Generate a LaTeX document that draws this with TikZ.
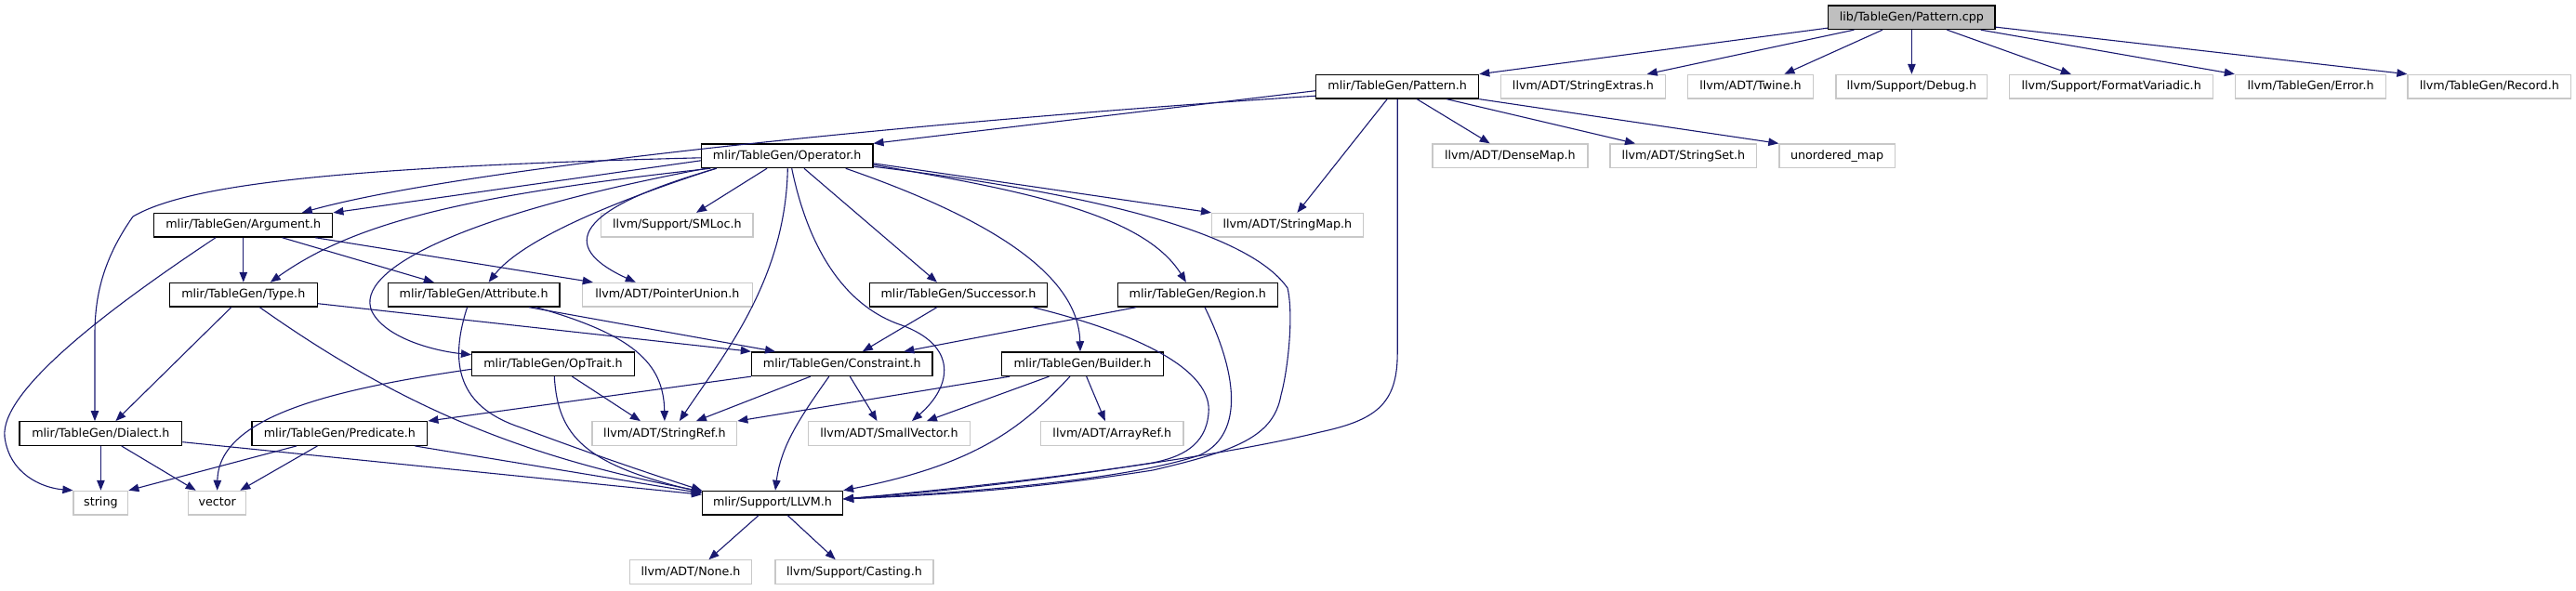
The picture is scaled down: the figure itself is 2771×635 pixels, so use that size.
\documentclass[tikz,border=0pt]{standalone}
\usepackage{fontspec}
\setmainfont{DejaVu Sans}
\usetikzlibrary{arrows.meta}
\definecolor{edgec}{HTML}{191970}
\definecolor{greyb}{HTML}{C8C8C8}
\definecolor{rootf}{HTML}{BFBFBF}
\tikzset{
  base/.style={rectangle, inner sep=0pt, minimum height=25.6pt, text height=9.6pt, text depth=2.6pt,
    font=\fontsize{12.7}{15}\selectfont, line width=1.3pt},
  hdr/.style={base, draw=black},
  ext/.style={base, draw=greyb},
  root/.style={base, draw=black, fill=rootf},
  edge/.style={draw=edgec, line width=1.1pt, -{Triangle[length=11pt,width=8.5pt]}}
}
\begin{document}
\begin{tikzpicture}[x=1pt,y=-1pt]
\useasboundingbox (0,0) rectangle (2771,635);
% row 0
\node[root, minimum width=179.4pt] (cpp) at (2056.4,18.7) {lib/TableGen/Pattern.cpp};
% row 1
\node[hdr, minimum width=174.8pt] (pattern) at (1503.2,93.2) {mlir/TableGen/Pattern.h};
\node[ext, minimum width=177.3pt] (strext) at (1702.9,93.2) {llvm/ADT/StringExtras.h};
\node[ext, minimum width=134.6pt] (twine) at (1883,93.2) {llvm/ADT/Twine.h};
\node[ext, minimum width=162.8pt] (debug) at (2056.4,93.2) {llvm/Support/Debug.h};
\node[ext, minimum width=218.9pt] (fmtvar) at (2271.2,93.2) {llvm/Support/FormatVariadic.h};
\node[ext, minimum width=162.3pt] (error) at (2485.6,93.2) {llvm/TableGen/Error.h};
\node[ext, minimum width=175.6pt] (record) at (2677.8,93.2) {llvm/TableGen/Record.h};
% row 2
\node[hdr, minimum width=184.3pt] (operator) at (846.7,167.8) {mlir/TableGen/Operator.h};
\node[ext, minimum width=167.1pt] (densemap) at (1624.4,167.8) {llvm/ADT/DenseMap.h};
\node[ext, minimum width=157.6pt] (stringset) at (1810.9,167.8) {llvm/ADT/StringSet.h};
\node[ext, minimum width=124.4pt] (umap) at (1976.1,167.8) {unordered\_map};
% row 3
\node[hdr, minimum width=192pt] (argument) at (261.8,242.3) {mlir/TableGen/Argument.h};
\node[ext, minimum width=163.3pt] (smloc) at (728.4,242.3) {llvm/Support/SMLoc.h};
\node[ext, minimum width=162.6pt] (stringmap) at (1384.9,242.3) {llvm/ADT/StringMap.h};
% row 4
\node[hdr, minimum width=158.8pt] (type) at (261.8,317.2) {mlir/TableGen/Type.h};
\node[hdr, minimum width=184.9pt] (attribute) at (509.6,317.2) {mlir/TableGen/Attribute.h};
\node[ext, minimum width=183pt] (ptrunion) at (717.8,317.2) {llvm/ADT/PointerUnion.h};
\node[hdr, minimum width=191.5pt] (successor) at (1031,317.2) {mlir/TableGen/Successor.h};
\node[hdr, minimum width=172.2pt] (region) at (1288.3,317.2) {mlir/TableGen/Region.h};
% row 5
\node[hdr, minimum width=174.7pt] (optrait) at (595,391.7) {mlir/TableGen/OpTrait.h};
\node[hdr, minimum width=194.6pt] (constraint) at (905.8,391.7) {mlir/TableGen/Constraint.h};
\node[hdr, minimum width=173.6pt] (builder) at (1164.5,391.7) {mlir/TableGen/Builder.h};
% row 6
\node[hdr, minimum width=174.8pt] (dialect) at (108.4,466.5) {mlir/TableGen/Dialect.h};
\node[hdr, minimum width=188.8pt] (predicate) at (365.4,466.5) {mlir/TableGen/Predicate.h};
\node[ext, minimum width=155.6pt] (stringref) at (714.9,466.5) {llvm/ADT/StringRef.h};
\node[ext, minimum width=174.6pt] (smallvec) at (956.5,466.5) {llvm/ADT/SmallVector.h};
\node[ext, minimum width=153.2pt] (arrayref) at (1196.3,466.5) {llvm/ADT/ArrayRef.h};
% row 7
\node[ext, minimum width=58.7pt] (string) at (108.4,541.2) {string};
\node[ext, minimum width=61.9pt] (vector) at (233.7,541.2) {vector};
\node[hdr, minimum width=150.9pt] (llvm) at (831,541.2) {mlir/Support/LLVM.h};
% row 8
\node[ext, minimum width=131.5pt] (none) at (743,615.6) {llvm/ADT/None.h};
\node[ext, minimum width=170pt] (casting) at (919,615.6) {llvm/Support/Casting.h};

% Pattern.cpp
\draw[edge] ([yshift=2pt]cpp.south west) -- (pattern.north east);
\draw[edge] ([xshift=-62pt]cpp.south) -- ([xshift=68.8pt]strext.north);
\draw[edge] ([xshift=-31.4pt]cpp.south) -- ([xshift=36.4pt]twine.north);
\draw[edge] (cpp.south) -- (debug.north);
\draw[edge] ([xshift=38pt]cpp.south) -- ([xshift=-43.4pt]fmtvar.north);
\draw[edge] ([xshift=74.2pt]cpp.south) -- (error.north west);
\draw[edge] ([yshift=3pt]cpp.south east) -- (record.north west);
% Pattern.h
\draw[edge] ([yshift=-4.5pt]pattern.west) -- (operator.north east);
\draw[edge] ([yshift=-10pt]pattern.west) .. controls (1000,130) and (500,180) .. ([xshift=63pt]argument.north);
\draw[edge] ([xshift=-11pt]pattern.south) -- ([xshift=10.5pt]stringmap.north);
\draw[edge] (pattern.south) -- (1503.2,380) .. controls (1503.2,435) and (1480,452) .. (1420,465) .. controls (1330,487) and (1150,515) .. ([yshift=4.2pt]llvm.east);
\draw[edge] ([xshift=21pt]pattern.south) -- ([xshift=-21.7pt]densemap.north);
\draw[edge] ([xshift=53pt]pattern.south) -- ([xshift=-51.9pt]stringset.north);
\draw[edge] (pattern.south east) -- (umap.north west);
% Operator.h
\draw[edge] ([yshift=-5pt]operator.west) -- (argument.north east);
\draw[edge] ([yshift=-2pt]operator.west) .. controls (350,180) and (200,200) .. (143,233) .. controls (110,280) and (102,320) .. (102,360) -- ([xshift=-6.4pt]dialect.north);
\draw[edge] ([xshift=10.5pt]operator.south west) .. controls (500,210) and (380,240) .. ([xshift=29pt]type.north);
\draw[edge] ([xshift=5.5pt]operator.south west) .. controls (500,230) and (380,290) .. (400,335) .. controls (415,365) and (470,378) .. ([yshift=10pt]optrait.west);
\draw[edge] ([xshift=16pt]operator.south west) .. controls (650,220) and (560,260) .. ([xshift=16pt]attribute.north);
\draw[edge] ([xshift=17pt]operator.south west) .. controls (600,230) and (610,270) .. ([xshift=-34pt]ptrunion.north);
\draw[edge] ([xshift=-21.7pt]operator.south) -- ([xshift=20.6pt]smloc.north);
\draw[edge] ([xshift=0.6pt]operator.south) .. controls (845,300) and (780,380) .. ([xshift=16pt]stringref.north);
\draw[edge] ([xshift=5pt]operator.south) .. controls (870,270) and (910,330) .. (970,350) .. controls (1030,372) and (1025,415) .. ([xshift=24.5pt]smallvec.north);
\draw[edge] ([xshift=18.3pt]operator.south) -- ([xshift=-23pt]successor.north);
\draw[edge] ([xshift=63pt]operator.south) .. controls (1050,230) and (1160,290) .. ([xshift=-2.5pt]builder.north);
\draw[edge] ([yshift=-9.5pt]operator.east) .. controls (1100,205) and (1230,230) .. ([xshift=-12.4pt]region.north);
\draw[edge] ([yshift=-8pt]operator.east) -- (stringmap.north west);
\draw[edge] ([yshift=-11.5pt]operator.east) .. controls (1150,205) and (1340,245) .. (1385,310) .. controls (1392,340) and (1385,400) .. (1378,425) .. controls (1370,470) and (1330,485) .. (1240,506) .. controls (1100,528) and (1000,533) .. ([yshift=4.2pt]llvm.east);
% Argument.h
\draw[edge] (argument.south) -- (type.north);
\draw[edge] ([xshift=41.8pt]argument.south) -- ([xshift=-42.8pt]attribute.north);
\draw[edge] ([xshift=77.5pt]argument.south) -- ([xshift=-80pt]ptrunion.north);
\draw[edge] ([xshift=-29.8pt]argument.south) .. controls (120,330) and (0,420) .. (5,470) .. controls (10,510) and (45,525) .. (string.north west);
% Type.h
\draw[edge] ([xshift=-13pt]type.south) -- ([xshift=16pt]dialect.north);
\draw[edge] ([xshift=17.5pt]type.south) .. controls (420,430) and (550,490) .. ([yshift=-1pt]llvm.north west);
\draw[edge] ([yshift=-9.5pt]type.east) -- (constraint.north west);
% Attribute.h
\draw[edge] ([xshift=59.4pt]attribute.south) -- ([xshift=-71.8pt]constraint.north);
\draw[edge] ([xshift=67pt]attribute.south) .. controls (680,360) and (714,390) .. (stringref.north);
\draw[edge] ([xshift=-7pt]attribute.south) .. controls (480,400) and (500,440) .. (560,460) .. controls (640,490) and (700,510) .. (llvm.north west);
% OpTrait.h
\draw[edge] ([yshift=-5.6pt]optrait.west) .. controls (350,420) and (235,450) .. (vector.north);
\draw[edge] ([xshift=1.3pt]optrait.south) .. controls (600,470) and (630,500) .. ([yshift=-2pt]llvm.north west);
\draw[edge] ([xshift=20.4pt]optrait.south) -- ([xshift=-26pt]stringref.north);
% Constraint.h
\draw[edge] (constraint.south west) -- (predicate.north east);
\draw[edge] ([xshift=-34pt]constraint.south) -- ([xshift=34pt]stringref.north);
\draw[edge] ([xshift=-14pt]constraint.south) .. controls (860,450) and (840,480) .. ([xshift=3pt]llvm.north);
\draw[edge] ([xshift=8.5pt]constraint.south) -- ([xshift=-13pt]smallvec.north);
% Successor.h
\draw[edge] ([xshift=-23pt]successor.south) -- ([xshift=22pt]constraint.north);
\draw[edge] ([xshift=80pt]successor.south) .. controls (1230,360) and (1305,400) .. (1300,445) .. controls (1297,480) and (1270,492) .. (1240,498) .. controls (1100,520) and (1000,530) .. ([yshift=4.2pt]llvm.east);
% Region.h
\draw[edge] ([xshift=-66pt]region.south) -- ([xshift=66.5pt]constraint.north);
\draw[edge] ([xshift=7.7pt]region.south) .. controls (1335,410) and (1335,470) .. (1290,490) .. controls (1200,520) and (1000,532) .. ([yshift=4.2pt]llvm.east);
% Builder.h
\draw[edge] ([xshift=-78.3pt]builder.south) -- (stringref.north east);
\draw[edge] ([xshift=-36pt]builder.south) -- ([xshift=40.4pt]smallvec.north);
\draw[edge] ([xshift=-13.6pt]builder.south) .. controls (1100,460) and (1050,500) .. (llvm.north east);
\draw[edge] ([xshift=4.2pt]builder.south) -- ([xshift=-7.5pt]arrayref.north);
% Dialect.h
\draw[edge] (dialect.south) -- (string.north);
\draw[edge] ([xshift=22.3pt]dialect.south) -- ([xshift=-23pt]vector.north);
\draw[edge] ([yshift=-9.2pt]dialect.east) -- ([yshift=-4.5pt]llvm.north west);
% Predicate.h
\draw[edge] ([xshift=-46.5pt]predicate.south) -- (string.north east);
\draw[edge] ([xshift=-24pt]predicate.south) -- ([xshift=24.6pt]vector.north);
\draw[edge] ([xshift=81pt]predicate.south) -- ([yshift=-3pt]llvm.north west);
% LLVM.h
\draw[edge] ([xshift=-15pt]llvm.south) -- ([xshift=19.5pt]none.north);
\draw[edge] ([xshift=16.3pt]llvm.south) -- ([xshift=-20.3pt]casting.north);
\end{tikzpicture}
\end{document}
